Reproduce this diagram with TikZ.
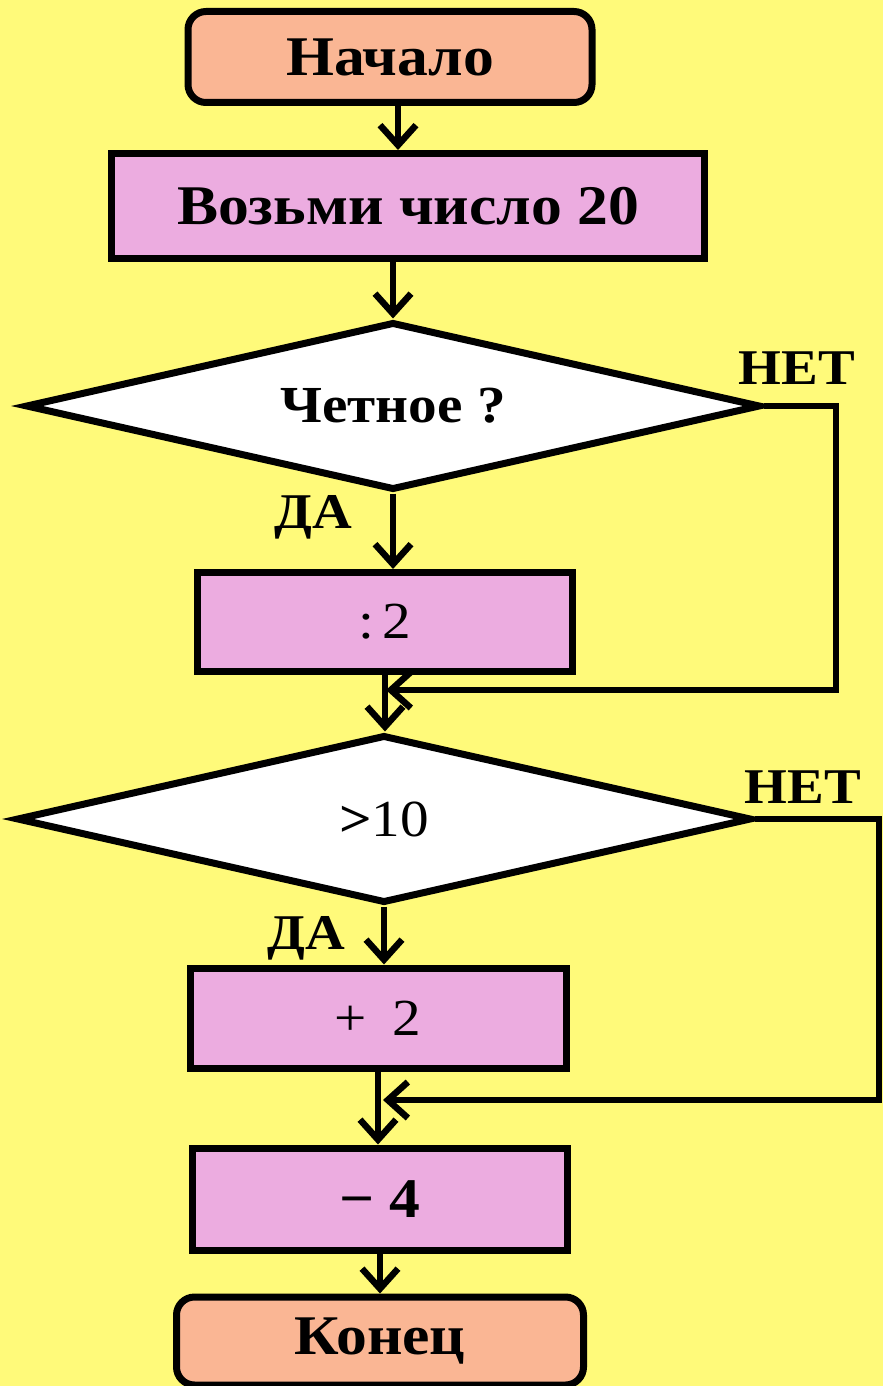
\documentclass[tikz,border=0pt]{standalone}
\usepackage{fontspec}
\setmainfont{Liberation Serif}[FakeStretch=1.1]
\usetikzlibrary{arrows.meta,shapes.geometric}
\definecolor{bgyel}{RGB}{255,250,122}
\definecolor{pinkbox}{RGB}{236,172,224}
\definecolor{salmon}{RGB}{250,182,148}
\tikzset{
  x=1pt,y=-1pt,
  termbox/.style={draw=black,line width=7pt,fill=salmon,rounded corners=18pt,inner sep=0pt,
    font=\fontsize{56}{62}\selectfont\bfseries},
  procbox/.style={draw=black,line width=7pt,fill=pinkbox,inner sep=0pt,
    font=\fontsize{56}{62}\selectfont\bfseries},
  decbox/.style={draw=black,line width=7pt,fill=white,shape=diamond,aspect=4.4,inner sep=0pt,
    minimum width=735pt,minimum height=168pt,font=\fontsize{52}{60}\selectfont\bfseries},
  lbl/.style={font=\fontsize{50}{60}\selectfont\bfseries,inner sep=0pt},
  arr/.style={line width=5.5pt,-{Straight Barb[length=20pt,width=36pt,line width=6.5pt]}},
}
\begin{document}
\begin{tikzpicture}
\fill[bgyel] (0,0) rectangle (883,1386);
\useasboundingbox (0,0) rectangle (883,1386);

\node[termbox,minimum width=404pt,minimum height=91pt] (start) at (390,57) {Начало};
\node[procbox,minimum width=593pt,minimum height=105pt] (take) at (408,206) {Возьми число 20};
\node[decbox] (d1) at (393,406) {Четное ?};
\node[procbox,minimum width=375pt,minimum height=99pt,font=\fontsize{52}{60}\selectfont] (div) at (385,622) {:\hspace{0.15em}2};
\node[decbox,font=\fontsize{52}{60}\selectfont] (d2) at (384,819) {\textbf{>}10};
\node[procbox,minimum width=376pt,minimum height=100pt,font=\fontsize{52}{60}\selectfont] (plus) at (378,1018) {+\hspace{0.5em}2};
\node[procbox,minimum width=375pt,minimum height=102pt] (minus) at (380,1199) {− 4};
\node[termbox,minimum width=407pt,minimum height=88pt] (stop) at (380,1341) {Конец};

\node[lbl] (net1) at (797,368) {НЕТ};
\node[lbl] (da1) at (313,517) {ДА};
\node[lbl] (net2) at (803,787) {НЕТ};
\node[lbl] (da2) at (306,938) {ДА};

\coordinate (j1) at (386,690);
\coordinate (j2) at (383,1100);

\draw[arr] ([xshift=8pt]start.south) -- ([xshift=-10pt]take.north);
\draw[arr] (d1.north |- take.south) -- (d1.north);
\draw[arr] (d1.south) -- (d1.south |- div.north);
\draw[arr] (div.south) -- (div.south |- d2.north);
\draw[arr] (d2.south) -- (d2.south |- plus.north);
\draw[arr] (plus.south) -- (plus.south |- minus.north);
\draw[arr] (minus.south) -- (minus.south |- stop.north);

\draw[arr] (d1.east) -| (836,690) -- (j1);
\draw[arr] (d2.east) -| (879,1100) -- (j2);
\end{tikzpicture}
\end{document}
